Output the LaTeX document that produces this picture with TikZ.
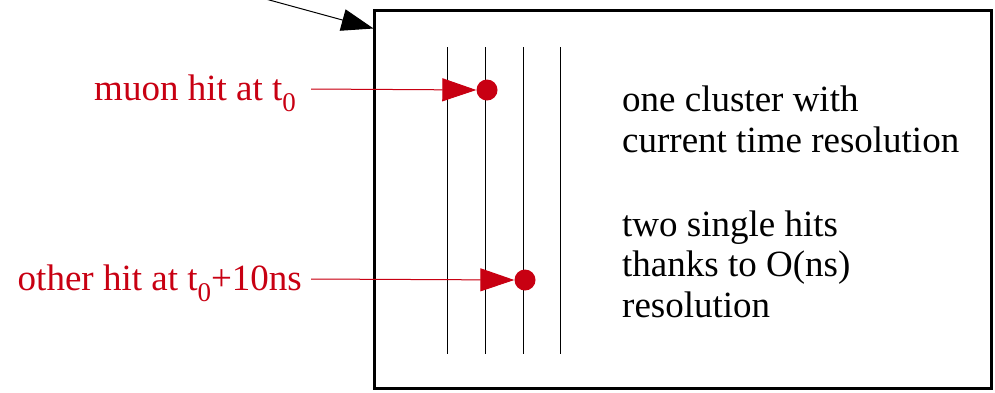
\documentclass[tikz,border=0pt]{standalone}
\usepackage{fontspec}
\setmainfont{Liberation Serif}
\usetikzlibrary{arrows.meta}
\definecolor{hitred}{RGB}{200,0,18}
\tikzset{
  wire/.style={line width=1pt, black},
  hitdot/.style={circle, fill=hitred, inner sep=0pt, minimum size=21pt},
  redlabel/.style={text=hitred, font=\fontsize{37}{40}\selectfont, inner sep=0pt},
  redarrow/.style={draw=hitred, line width=1pt, -{Triangle[length=34pt,width=23pt]}, fill=hitred},
  blacktext/.style={font=\fontsize{37}{40.5}\selectfont, align=left, inner sep=0pt},
  detbox/.style={draw, line width=3pt, minimum width=617pt, minimum height=378pt, inner sep=0pt, outer sep=0pt}
}
\newcommand{\tsub}{t\raisebox{-0.3em}{\fontsize{27}{27}\selectfont 0}}
\begin{document}
\begin{tikzpicture}[x=1pt,y=-1pt]
\useasboundingbox (0,0) rectangle (995,392);
\node[detbox] (box) at (683,199.5) {};
\coordinate (src) at (262,-2);
\draw[line width=1pt, -{Triangle[length=32pt,width=22pt]}] (src) -- ([xshift=-1pt,yshift=-18pt]box.north west);
% wires
\coordinate (w1t) at (447,47); \coordinate (w1b) at (447,354);
\coordinate (w2t) at (485,47); \coordinate (w2b) at (485,354);
\coordinate (w3t) at (523,47); \coordinate (w3b) at (523,354);
\coordinate (w4t) at (560,47); \coordinate (w4b) at (560,354);
\draw[wire] (w1t) -- (w1b);
\draw[wire] (w2t) -- (w2b);
\draw[wire] (w3t) -- (w3b);
\draw[wire] (w4t) -- (w4b);
% hits
\node[hitdot] (d1) at (487,90) {};
\node[hitdot] (d2) at (525,280) {};
\node[redlabel, anchor=base east] (l1) at (296,100) {muon hit at \tsub};
\node[redlabel, anchor=base east] (l2) at (302,290) {other hit at \tsub+10ns};
\coordinate (a1) at (311,89);
\coordinate (a2) at (311,279);
\draw[redarrow] (a1) -- (d1.west);
\draw[redarrow] (a2) -- (d2.west);
% texts
\node[blacktext, anchor=base west] (t1) at (622,152) {one cluster with\\current time resolution};
\node[blacktext, anchor=base west] (t2) at (622,317) {two single hits\\thanks to O(ns)\\resolution};
\end{tikzpicture}
\end{document}
